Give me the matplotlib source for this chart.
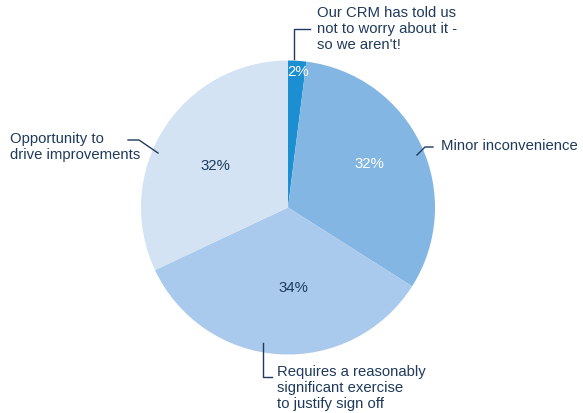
import matplotlib.pyplot as plt

plt.rcParams['font.family'] = ['Liberation Sans', 'DejaVu Sans']

# slices, clockwise from 12 o'clock
labels = [
    "Our CRM has told us\nnot to worry about it -\nso we aren't!",
    "Minor inconvenience",
    "Requires a reasonably\nsignificant exercise\nto justify sign off",
    "Opportunity to\ndrive improvements",
]
values = [2, 32, 34, 32]
colors = ["#1c8fd3", "#83b6e2", "#a9caec", "#d3e3f3"]
pct_colors = ["white", "white", "#1f3a5c", "#1f3a5c"]

navy = "#1f3a5c"
W, H = 583, 413

fig = plt.figure(figsize=(W / 100, H / 100), dpi=100)
ax = fig.add_axes([0, 0, 1, 1])

cx, cy, r = 288, H - 207.5, 147
wedges, _ = ax.pie(values, colors=colors, startangle=90, counterclock=False,
                   center=(cx, cy), radius=r, wedgeprops=dict(linewidth=0))
ax.set_xlim(0, W)
ax.set_ylim(0, H)
ax.set_aspect('equal')
ax.axis('off')


def px(x, y):
    # pixel coords measured from the top-left corner
    return x, H - y


# percentage labels
pct_pos = [(298, 72), (369, 164), (293.5, 287.5), (215, 166)]
for v, c, (x, y) in zip(values, pct_colors, pct_pos):
    ax.text(*px(x, y), f"{v}%", ha='center', va='center', fontsize=10.8,
            color=c)

# category labels with leader lines
label_pos = [(317, 29), (441, 146), (277, 388), (10, 147)]
leaders = [
    [(294, 59), (294, 29), (310, 29)],
    [(417, 155), (425, 147), (433, 147)],
    [(263, 343), (263, 377), (272, 377)],
    [(158, 153), (139, 140), (128, 140)],
]
for text, (tx, ty), pts in zip(labels, label_pos, leaders):
    ax.text(*px(tx, ty), text, ha='left', va='center', fontsize=10.7,
            color=navy, linespacing=1.2)
    xs, ys = zip(*[px(x, y) for x, y in pts])
    ax.plot(xs, ys, color=navy, linewidth=1)

fig.savefig("out.png", dpi=100)
